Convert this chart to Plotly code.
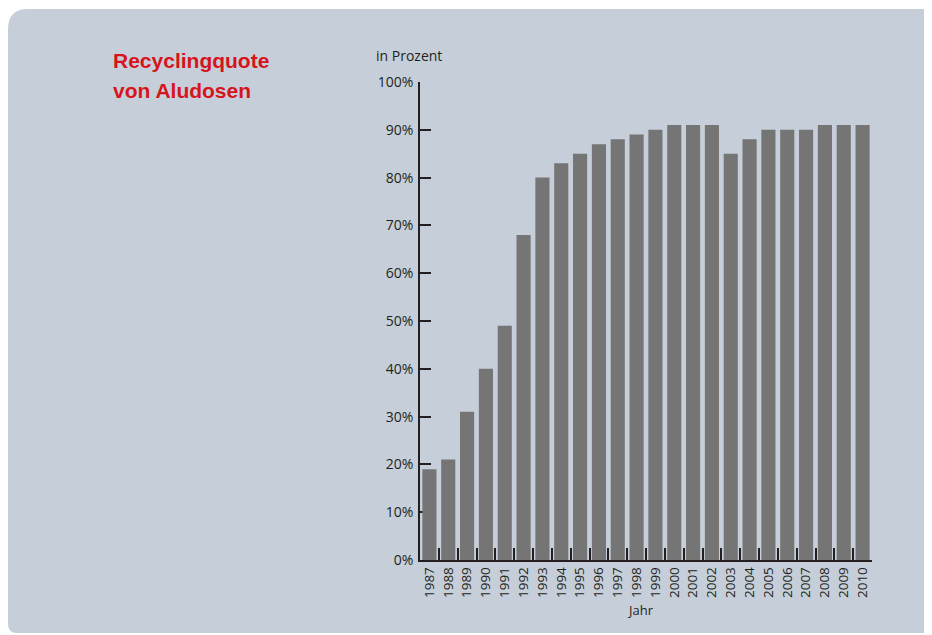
import plotly.graph_objects as go

years = [str(y) for y in range(1987, 2011)]
quote = [19, 21, 31, 40, 49, 68, 80, 83, 85, 87, 88, 89, 90,
         91, 91, 91, 85, 88, 90, 90, 90, 91, 91, 91]
y_ticks = list(range(0, 101, 10))
y_labels = [f"{v}%" for v in y_ticks]

title_line1 = "Recyclingquote"
title_line2 = "von Aludosen"
unit_text = "in Prozent"
x_title = "Jahr"

W, H = 932, 635
OFF = 8  # page body margin
L, R, T, B = 420, 872, 82, 560  # plot area in page pixels


def px(x):
    return (x - L) / (R - L)


def py(y):
    return (B - y) / (B - T)


TXT = "#231f20"
FONT = "Open Sans"

fig = go.Figure()
fig.add_trace(go.Bar(
    x=years, y=quote, marker=dict(color="#767575", line=dict(width=0)),
    width=0.75, hoverinfo="x+y",
))

# rounded background panel (different corner radii)
x0, y0, x1, y1 = 8, 9, 933, 633
r_tl, r_tr, r_bl, r_br = 20, 9, 9, 9
path = (
    f"M {px(x0 + r_tl)},{py(y0)} L {px(x1 - r_tr)},{py(y0)} "
    f"Q {px(x1)},{py(y0)} {px(x1)},{py(y0 + r_tr)} "
    f"L {px(x1)},{py(y1 - r_br)} Q {px(x1)},{py(y1)} {px(x1 - r_br)},{py(y1)} "
    f"L {px(x0 + r_bl)},{py(y1)} Q {px(x0)},{py(y1)} {px(x0)},{py(y1 - r_bl)} "
    f"L {px(x0)},{py(y0 + r_tl)} Q {px(x0)},{py(y0)} {px(x0 + r_tl)},{py(y0)} Z"
)
fig.add_shape(type="path", path=path, xref="paper", yref="paper",
              fillcolor="#c6cfd9", line=dict(width=0), layer="below")

title_font = dict(family="Liberation Sans", size=21, color="#d7141c", weight="bold")
fig.add_annotation(text=title_line1, xref="paper", yref="paper",
                   x=px(111), y=py(60), xanchor="left", yanchor="middle",
                   showarrow=False, font=title_font)
fig.add_annotation(text=title_line2, xref="paper", yref="paper",
                   x=px(111), y=py(90), xanchor="left", yanchor="middle",
                   showarrow=False, font=title_font)
fig.add_annotation(text=unit_text, xref="paper", yref="paper",
                   x=px(374), y=py(56), xanchor="left", yanchor="middle",
                   showarrow=False, font=dict(family=FONT, size=14, color=TXT))
fig.add_annotation(text=x_title, xref="paper", yref="paper",
                   x=px(640), y=py(610), xanchor="center", yanchor="middle",
                   showarrow=False, font=dict(family=FONT, size=13, color=TXT))

fig.update_layout(
    width=W, height=H, autosize=False,
    margin=dict(l=L - OFF, r=W + OFF - R, t=T - OFF, b=H + OFF - B, pad=0),
    paper_bgcolor="white", plot_bgcolor="rgba(0,0,0,0)",
    showlegend=False,
    font=dict(family=FONT, size=14, color=TXT),
)
fig.update_xaxes(
    type="category", range=[-0.5, 23.5], showgrid=False, zeroline=False,
    showline=True, linecolor=TXT, linewidth=1.5,
    ticks="inside", tickson="boundaries", ticklen=12, tickwidth=1.5,
    tickcolor=TXT, tickangle=-90, tickfont=dict(family=FONT, size=13.5, color=TXT),
)
fig.update_yaxes(
    range=[0, 100], tickvals=y_ticks, ticktext=y_labels, showgrid=False,
    zeroline=False, showline=True, linecolor=TXT, linewidth=1.5,
    ticks="inside", ticklen=11, tickwidth=1.5, tickcolor=TXT,
    tickfont=dict(family=FONT, size=14, color=TXT), ticklabelstandoff=2,
    layer="below traces",
)

fig.write_html("out.html")
